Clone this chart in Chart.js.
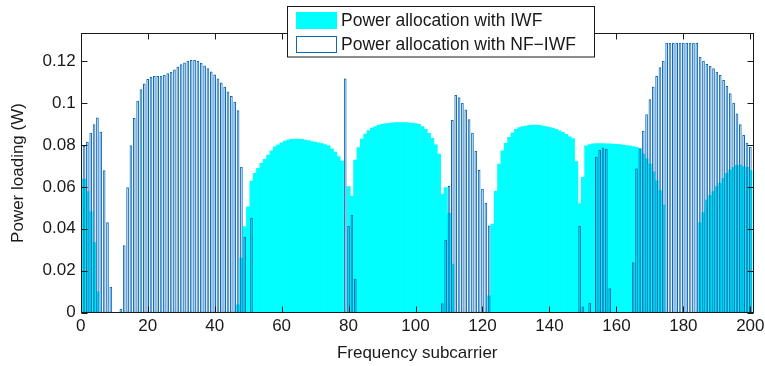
<!DOCTYPE html>
<html>
<head>
<meta charset="utf-8">
<script src="https://cdn.jsdelivr.net/npm/chart.js@4.4.1/dist/chart.umd.min.js"></script>
<style>
html,body{margin:0;padding:0;background:#fff;}
#wrap{width:765px;height:366px;position:relative;}
</style>
</head>
<body>
<div id="wrap"><canvas id="c" width="765" height="366"></canvas></div>
<script>
// ---- data ----
const subcarriers = Array.from({length: 200}, (_, i) => i + 1);

const iwfPower = [
  0.0637, 0.0577, 0.0482, 0.0334, 0.0100, 0, 0, 0, 0, 0,
  0, 0, 0, 0, 0, 0, 0, 0, 0, 0,
  0, 0, 0, 0, 0, 0, 0, 0, 0, 0,
  0, 0, 0, 0, 0, 0, 0, 0, 0, 0,
  0, 0, 0, 0, 0, 0, 0.0037, 0.0260, 0.0410, 0.0505,
  0.0628, 0.0664, 0.0688, 0.0712, 0.0731, 0.0752, 0.0772, 0.0791, 0.0800, 0.0810,
  0.0818, 0.0823, 0.0826, 0.0828, 0.0828, 0.0826, 0.0823, 0.0820, 0.0816, 0.0813,
  0.0810, 0.0806, 0.0802, 0.0795, 0.0781, 0.0766, 0.0744, 0.0723, 0, 0.0601,
  0.0556, 0.0728, 0.0787, 0.0828, 0.0852, 0.0868, 0.0880, 0.0887, 0.0895, 0.0898,
  0.0900, 0.0903, 0.0905, 0.0906, 0.0906, 0.0906, 0.0906, 0.0905, 0.0904, 0.0902,
  0.0898, 0.0887, 0.0874, 0.0855, 0.0831, 0.0800, 0.0756, 0.0566, 0.0596, 0.0474,
  0.0232, 0, 0, 0, 0, 0, 0, 0, 0, 0,
  0, 0.0080, 0.0422, 0.0580, 0.0709, 0.0772, 0.0807, 0.0836, 0.0858, 0.0874,
  0.0882, 0.0887, 0.0890, 0.0893, 0.0895, 0.0895, 0.0893, 0.0890, 0.0887, 0.0884,
  0.0879, 0.0874, 0.0867, 0.0860, 0.0850, 0.0839, 0.0830, 0.0720, 0.0520, 0.0645,
  0.0795, 0.0802, 0.0805, 0.0806, 0.0806, 0.0806, 0.0805, 0.0805, 0.0804, 0.0803,
  0.0801, 0.0799, 0.0797, 0.0795, 0.0792, 0.0788, 0.0783, 0.0756, 0.0734, 0.0709,
  0.0672, 0.0629, 0.0582, 0.0513, 0, 0, 0, 0, 0, 0,
  0, 0, 0, 0, 0.0429, 0.0477, 0.0537, 0.0558, 0.0578, 0.0601,
  0.0617, 0.0640, 0.0664, 0.0680, 0.0693, 0.0702, 0.0704, 0.0696, 0.0693, 0.0677
];

const nfIwfPower = [
  0.0795, 0.0815, 0.0858, 0.0898, 0.0931, 0.0863, 0.0679, 0.0431, 0.0124, 0,
  0, 0.0019, 0.0321, 0.0598, 0.0798, 0.0928, 0.1011, 0.1065, 0.1093, 0.1114,
  0.1125, 0.1128, 0.1128, 0.1128, 0.1133, 0.1141, 0.1149, 0.1160, 0.1173, 0.1184,
  0.1193, 0.1201, 0.1205, 0.1205, 0.1200, 0.1192, 0.1179, 0.1165, 0.1150, 0.1135,
  0.1117, 0.1097, 0.1077, 0.1055, 0.1033, 0.1006, 0.0965, 0.0696, 0.0362, 0,
  0.0453, 0, 0, 0, 0, 0, 0, 0, 0, 0,
  0, 0, 0, 0, 0, 0, 0, 0, 0, 0,
  0, 0, 0, 0, 0, 0, 0, 0, 0.1117, 0.0413,
  0.0466, 0.0162, 0, 0, 0, 0, 0, 0, 0, 0,
  0, 0, 0, 0, 0, 0, 0, 0, 0, 0,
  0, 0, 0, 0, 0, 0, 0, 0.0045, 0.0346, 0.0604,
  0.0919, 0.1038, 0.1027, 0.1001, 0.0969, 0.0922, 0.0858, 0.0772, 0.0680, 0.0591,
  0.0524, 0.0416, 0, 0, 0, 0, 0, 0, 0, 0,
  0, 0, 0, 0, 0, 0, 0, 0, 0, 0,
  0, 0, 0, 0, 0, 0, 0, 0, 0.0415, 0.0030,
  0, 0.0048, 0, 0.0744, 0.0776, 0.0788, 0.0780, 0.0116, 0, 0,
  0, 0, 0, 0, 0.0240, 0.0688, 0.0783, 0.0868, 0.0946, 0.1017,
  0.1077, 0.1128, 0.1170, 0.1201, 0.1287, 0.1287, 0.1287, 0.1287, 0.1287, 0.1287,
  0.1287, 0.1287, 0.1287, 0.1287, 0.1220, 0.1201, 0.1186, 0.1176, 0.1165, 0.1149,
  0.1133, 0.1109, 0.1081, 0.1046, 0.1001, 0.0950, 0.0898, 0.0847, 0.0810, 0.0791
];

const xTickValues = [0, 20, 40, 60, 80, 100, 120, 140, 160, 180, 200];
const yTickValues = [0, 0.02, 0.04, 0.06, 0.08, 0.1, 0.12];
const yTickLabels = ['0', '0.02', '0.04', '0.06', '0.08', '0.1', '0.12'];
const seriesLabels = ['Power allocation with IWF', 'Power allocation with NF\u2212IWF'];
const xTitle = 'Frequency subcarrier';
const yTitle = 'Power loading (W)';

// ---- styling ----
const FONT = '"Liberation Sans", Arial, Helvetica, sans-serif';
const INK = '#1a1a1a';
const CYAN = '#00ffff';
const EDGE = '#0b69b8';

Chart.defaults.font.family = FONT;
Chart.defaults.font.size = 17;
Chart.defaults.color = INK;

const toPoints = vals => subcarriers.map((s, i) => ({x: s, y: vals[i] === 0 ? null : vals[i]}));

const framePlugin = {
  id: 'frame',
  afterDatasetsDraw(chart) {
    const {ctx, chartArea: a, scales: {x, y}} = chart;
    const L = Math.round(a.left) + 0.5, R = Math.round(a.right) - 0.5;
    const T = Math.round(a.top) + 0.5, B = Math.round(a.bottom) - 0.5;
    ctx.save();
    ctx.strokeStyle = INK;
    ctx.lineWidth = 1;
    ctx.beginPath();
    xTickValues.forEach(v => {
      const px = Math.round(x.getPixelForValue(v)) + 0.5;
      ctx.moveTo(px, B); ctx.lineTo(px, B - 6);
      ctx.moveTo(px, T); ctx.lineTo(px, T + 6);
    });
    yTickValues.forEach(v => {
      const py = Math.round(y.getPixelForValue(v)) + 0.5;
      ctx.moveTo(L, py); ctx.lineTo(L + 6, py);
      ctx.moveTo(R, py); ctx.lineTo(R - 6, py);
    });
    ctx.stroke();
    ctx.strokeRect(L, T, R - L, B - T);
    ctx.restore();
  }
};

const legendPlugin = {
  id: 'boxLegend',
  afterDraw(chart) {
    const ctx = chart.ctx;
    const ds = chart.data.datasets;
    ctx.save();
    ctx.fillStyle = '#ffffff';
    ctx.fillRect(287.5, 6.5, 307, 50.5);
    ctx.strokeStyle = INK;
    ctx.lineWidth = 1;
    ctx.strokeRect(287.5, 6.5, 307, 50.5);
    ctx.fillStyle = ds[0].backgroundColor;
    ctx.fillRect(296, 12, 41, 17);
    ctx.strokeStyle = ds[1].borderColor;
    ctx.strokeRect(296.5, 36.5, 40, 16);
    ctx.fillStyle = INK;
    ctx.font = '17.5px ' + FONT;
    ctx.textBaseline = 'middle';
    ctx.textAlign = 'left';
    ctx.fillText(ds[0].label, 341, 21);
    ctx.fillText(ds[1].label, 341, 45);
    ctx.restore();
  }
};

new Chart(document.getElementById('c'), {
  type: 'bar',
  data: {
    datasets: [
      {
        label: seriesLabels[0],
        data: toPoints(iwfPower),
        backgroundColor: CYAN,
        borderWidth: 0,
        barPercentage: 1,
        categoryPercentage: 1,
        grouped: false,
        order: 2
      },
      {
        label: seriesLabels[1],
        data: toPoints(nfIwfPower),
        backgroundColor: 'rgba(255,255,255,0)',
        borderColor: EDGE,
        borderWidth: 1,
        borderSkipped: false,
        barPercentage: 0.8,
        categoryPercentage: 1,
        grouped: false,
        order: 1
      }
    ]
  },
  options: {
    responsive: false,
    animation: false,
    devicePixelRatio: 1,
    layout: {padding: {top: 33.3, right: 11.3, left: 0, bottom: 0}},
    plugins: {legend: {display: false}, tooltip: {enabled: false}},
    scales: {
      x: {
        type: 'linear',
        min: 0,
        max: 201,
        offset: false,
        grid: {display: false, drawTicks: false},
        border: {display: false},
        afterBuildTicks: s => { s.ticks = xTickValues.map(v => ({value: v})); },
        ticks: {autoSkip: false, maxRotation: 0, padding: 3, color: INK,
                callback: v => String(v)},
        title: {display: true, text: xTitle, color: INK, font: {size: 17},
                padding: {top: 0, bottom: 2}},
        afterFit: s => { s.height = 53.3; s.paddingLeft = 0; s.paddingRight = 0; }
      },
      y: {
        type: 'linear',
        min: 0,
        max: 0.1332,
        grid: {display: false, drawTicks: false},
        border: {display: false},
        afterBuildTicks: s => { s.ticks = yTickValues.map(v => ({value: v})); },
        ticks: {padding: 5, color: INK,
                callback: (v) => yTickLabels[yTickValues.indexOf(v)] ?? ''},
        title: {display: true, text: yTitle, color: INK, font: {size: 17},
                padding: {top: 8, bottom: 0}},
        afterFit: s => { s.width = 80.7; s.paddingTop = 0; s.paddingBottom = 0; }
      }
    }
  },
  plugins: [framePlugin, legendPlugin]
});
</script>
</body>
</html>
